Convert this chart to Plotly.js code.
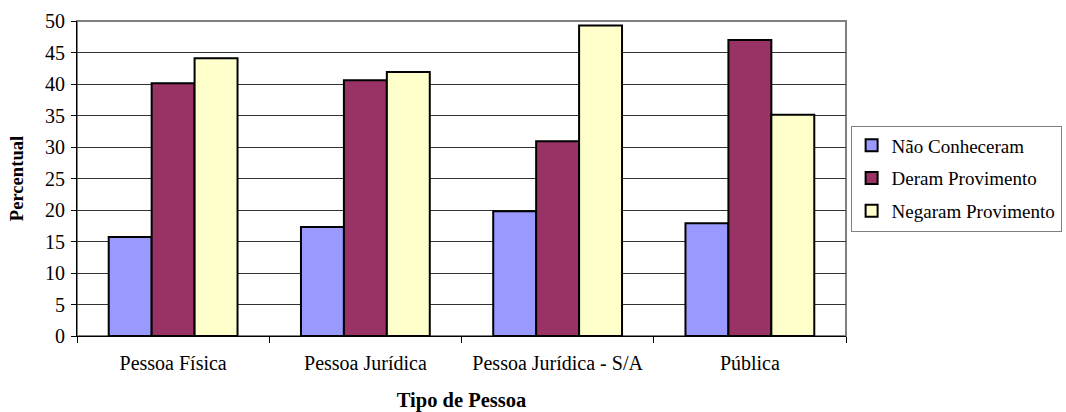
<!DOCTYPE html>
<html>
<head>
<meta charset="utf-8">
<script src="https://cdn.plot.ly/plotly-3.0.1.min.js"></script>
<style>html,body{margin:0;padding:0;background:#fff;}#chart{width:1066px;height:412px;}</style>
</head>
<body>
<div id="chart"></div>
<script>
const categories = ["Pessoa Física", "Pessoa Jurídica", "Pessoa Jurídica - S/A", "Pública"];
const naoConheceram = [15.7, 17.3, 19.8, 17.9];
const deramProvimento = [40.1, 40.6, 30.9, 47.0];
const negaramProvimento = [44.1, 41.9, 49.3, 35.1];
const seriesNames = ["Não Conheceram", "Deram Provimento", "Negaram Provimento"];
const seriesColors = ["#9999FF", "#993366", "#FFFFCC"];

const serif = "Liberation Serif";
const traces = [naoConheceram, deramProvimento, negaramProvimento].map((vals, i) => ({
  type: "bar",
  x: categories,
  y: vals,
  name: seriesNames[i],
  legendgroup: "g" + i,
  marker: {color: seriesColors[i], line: {color: "#000", width: 2}},
  hoverinfo: "skip"
}));

const layout = {
  width: 1066, height: 412,
  margin: {l: 77, r: 220, t: 21, b: 76, autoexpand: false},
  paper_bgcolor: "#fff", plot_bgcolor: "#fff",
  font: {family: serif, size: 19, color: "#000"},
  barmode: "group",
  bargap: 0.33,
  bargroupgap: 0,
  showlegend: true,
  legend: {
    x: 1.006, xanchor: "left", y: 0.5, yanchor: "middle",
    bordercolor: "#808080", borderwidth: 1,
    font: {family: serif, size: 19, color: "#000"},
    tracegroupgap: 5, itemwidth: 30
  },
  xaxis: {
    type: "category",
    tickson: "boundaries",
    ticks: "outside", ticklen: 6, tickcolor: "#000",
    showline: true, linecolor: "#000", linewidth: 1,
    showgrid: false,
    ticklabelstandoff: 9,
    tickfont: {family: serif, size: 20, color: "#000"},
    title: {text: "Tipo de Pessoa", font: {family: serif, size: 20.5, weight: "bold", color: "#000"}, standoff: 20}
  },
  yaxis: {
    range: [0, 50], dtick: 5,
    ticks: "outside", ticklen: 5, tickcolor: "#000",
    showline: true, linecolor: "#000", linewidth: 1,
    showgrid: true, gridcolor: "#333", gridwidth: 1,
    zeroline: false,
    ticklabelstandoff: 2,
    tickfont: {family: serif, size: 20, color: "#000"},
    title: {text: "Percentual", font: {family: serif, size: 18.6, weight: "bold", color: "#000"}, standoff: 16}
  },
  shapes: [{
    type: "rect", xref: "paper", yref: "paper", x0: 0, x1: 1, y0: 0, y1: 1,
    line: {color: "#808080", width: 2}, layer: "below"
  }]
};

Plotly.newPlot("chart", traces, layout, {displayModeBar: false, staticPlot: true});
</script>
</body>
</html>
